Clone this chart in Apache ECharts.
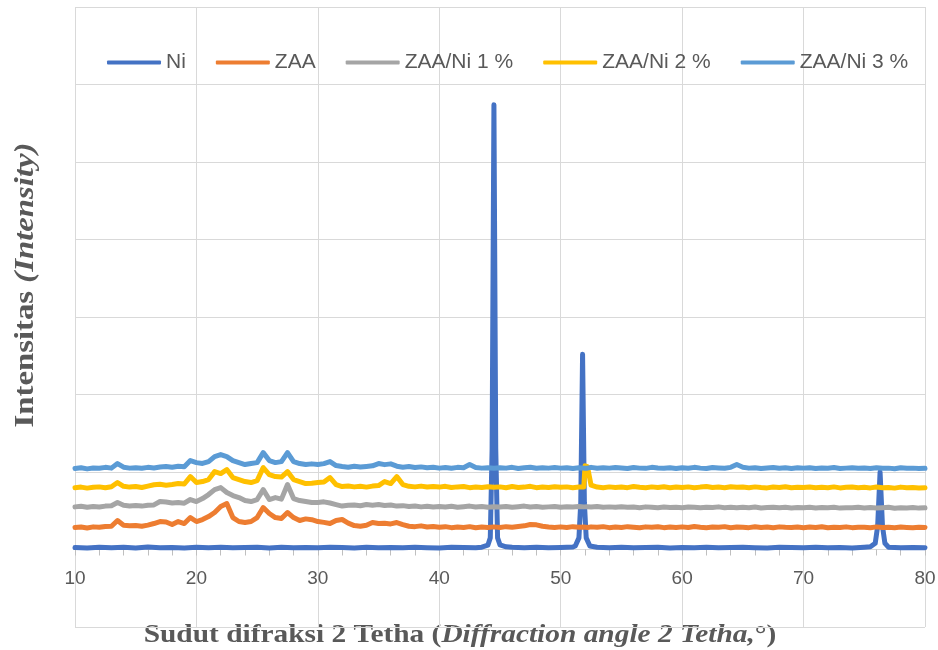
<!DOCTYPE html>
<html><head><meta charset="utf-8">
<script src="https://cdn.jsdelivr.net/npm/echarts@6/dist/echarts.min.js"></script>
<style>html,body{margin:0;padding:0;background:#fff}#c{width:938px;height:650px}</style>
</head><body><div id="c"></div>
<script>
// 2-theta sampling grid for the ZAA-based patterns (degrees)
const theta = [
  10,10.5,11,11.5,12,12.5,13,13.5,14,14.5,
  15,15.5,16,16.5,17,17.5,18,18.5,19,19.5,
  20,20.5,21,21.5,22,22.5,23,23.5,24,24.5,
  25,25.5,26,26.5,27,27.5,28,28.5,29,29.5,
  30,30.5,31,31.5,32,32.5,33,33.5,34,34.5,
  35,35.5,36,36.5,37,37.5,38,38.5,39,39.5,
  40,40.5,41,41.5,42,42.5,43,43.5,44,44.5,
  45,45.5,46,46.5,47,47.5,48,48.5,49,49.5,
  50,50.5,51,51.5,51.9,52,52.2,52.5,53,53.5,54,54.5,
  55,55.5,56,56.5,57,57.5,58,58.5,59,59.5,
  60,60.5,61,61.5,62,62.5,63,63.5,64,64.5,
  65,65.5,66,66.5,67,67.5,68,68.5,69,69.5,
  70,70.5,71,71.5,72,72.5,73,73.5,74,74.5,
  75,75.5,76,76.5,77,77.5,78,78.5,79,79.5,
  80
];
const zaaIntensity = [
  284,290,278,292,286,298,300,374,312,305,
  309,300,315,335,361,355,322,361,335,412,
  361,387,425,477,554,593,412,361,348,361,
  412,541,464,412,400,477,412,374,395,385,
  361,350,335,374,387,340,309,300,312,348,
  335,340,330,348,322,300,295,305,290,298,
  288,295,282,290,285,295,280,290,285,292,
  285,295,288,298,305,322,318,300,290,285,
  292,285,295,288,290,296,284,292,286,295,282,290,
  285,295,288,280,292,286,294,282,290,285,
  292,284,296,288,282,290,286,295,280,290,
  288,282,294,285,290,280,292,286,284,290,
  282,290,285,294,280,288,284,292,282,288,
  286,280,292,284,288,282,290,285,280,288,
  284
];
const zaaNi1Intensity = [
  550,558,545,555,548,560,565,606,570,562,
  568,560,572,575,619,612,600,606,598,645,
  619,657,709,773,799,735,696,670,632,619,
  645,773,645,670,650,838,657,632,619,606,
  606,615,600,580,560,570,575,565,580,572,
  580,568,575,560,566,555,562,550,558,548,
  555,548,558,545,552,560,548,556,545,552,
  548,556,545,552,560,548,554,545,550,556,
  545,552,548,555,550,546,552,548,556,545,550,544,
  552,545,548,540,550,544,538,548,542,546,
  540,548,544,538,546,542,550,540,545,538,
  545,540,548,536,542,546,538,544,535,542,
  538,545,535,542,540,546,534,540,538,544,
  536,542,535,540,545,532,540,536,542,534,
  538
];
const zaaNi2Intensity = [
  798,805,792,802,808,796,810,864,815,805,
  812,800,818,835,842,830,838,851,845,941,
  864,877,902,1005,980,1031,928,902,877,864,
  889,1057,967,941,935,1005,902,877,851,855,
  864,870,928,838,812,820,808,815,805,818,
  825,877,851,941,838,815,808,818,806,812,
  805,815,800,808,812,798,806,800,810,802,
  808,796,812,800,805,815,798,806,800,810,
  802,808,798,806,805,1080,1070,830,805,798,808,800,
  806,798,812,802,796,808,800,810,798,805,
  800,808,796,805,812,800,806,798,810,802,
  806,798,808,800,795,806,800,810,797,803,
  800,806,796,804,798,808,795,802,806,798,
  802,795,806,798,800,792,805,796,800,794,
  798
];
const zaaNi3Intensity = [
  1045,1055,1040,1052,1048,1060,1050,1109,1062,1050,
  1055,1048,1060,1052,1065,1070,1062,1075,1068,1147,
  1121,1110,1134,1199,1225,1199,1147,1121,1096,1110,
  1121,1250,1147,1121,1134,1250,1134,1109,1096,1105,
  1096,1108,1134,1083,1070,1062,1075,1065,1072,1080,
  1109,1095,1105,1075,1062,1070,1058,1066,1055,1062,
  1050,1058,1048,1060,1055,1096,1058,1050,1055,1048,
  1056,1050,1060,1045,1055,1062,1048,1055,1050,1058,
  1050,1056,1045,1055,1050,1058,1050,1060,1048,1055,1050,1058,
  1052,1045,1058,1050,1047,1060,1052,1048,1055,1046,
  1055,1048,1060,1050,1045,1057,1052,1048,1060,1096,
  1062,1050,1055,1045,1052,1058,1048,1054,1046,1055,
  1050,1056,1044,1052,1048,1058,1045,1050,1055,1047,
  1052,1045,1056,1048,1050,1042,1055,1047,1050,1044,
  1048
];
// Ni pattern (own grid, dense around the Ni reflections)
const niTheta = [
  10,11,12,13,14,15,16,17,18,19,20,21,22,23,24,25,26,27,28,29,30,31,32,33,34,35,36,37,38,39,40,41,42,43,
  43.5,44,44.2,44.35,44.5,44.65,44.8,45,45.5,
  46,47,48,49,50,51,
  51.2,51.5,51.65,51.8,51.95,52.1,52.4,
  53,54,55,56,57,58,59,60,61,62,63,64,65,66,67,68,69,70,71,72,73,74,75,
  75.5,75.9,76.1,76.3,76.5,76.7,
  77,78,79,80
];
const niIntensity = [
  26,20,30,22,28,18,32,24,26,20,30,24,28,22,26,30,20,28,24,26,22,30,25,20,28,24,26,22,30,24,20,28,26,22,
  30,55,150,1300,5740,1300,150,60,35,
  28,24,30,22,26,32,
  45,150,600,2520,600,150,45,
  30,24,28,22,26,30,20,26,24,28,22,26,30,24,20,28,26,22,28,24,26,20,30,
  35,80,300,1000,300,80,
  30,24,26,22
];
const seriesNames = ['Ni','ZAA','ZAA/Ni 1 %','ZAA/Ni 2 %','ZAA/Ni 3 %'];
const seriesColors = ['#4472C4','#ED7D31','#A5A5A5','#FFC000','#5B9BD5'];

const pair = (xs, ys) => xs.map((x, i) => [x, ys[i]]);
const seriesData = [
  pair(niTheta, niIntensity),
  pair(theta, zaaIntensity),
  pair(theta, zaaNi1Intensity),
  pair(theta, zaaNi2Intensity),
  pair(theta, zaaNi3Intensity)
];

const chart = echarts.init(document.getElementById('c'), null, {renderer: 'canvas'});
const grey = '#595959';
const gridCol = '#d9d9d9';
const serif = 'Liberation Serif, "DejaVu Serif", serif';
chart.setOption({
  animation: false,
  backgroundColor: '#fff',
  grid: {left: 75, right: 13, top: 7, bottom: 23, containLabel: false, outerBoundsMode: 'none'},
  legend: {
    left: 102, top: 47,
    itemWidth: 54, itemHeight: 4, itemGap: 30,
    icon: 'roundRect',
    textStyle: {color: grey, fontSize: 21, fontFamily: 'Liberation Sans, Arial, sans-serif'},
    data: seriesNames
  },
  xAxis: {
    type: 'value', min: 10, max: 80, interval: 10,
    offset: -77.5,
    axisLine: {show: true, onZero: false, lineStyle: {color: gridCol, width: 1}},
    axisTick: {show: true, length: 6, lineStyle: {color: '#bfbfbf'}},
    minorTick: {show: true, splitNumber: 5, length: 6, lineStyle: {color: '#bfbfbf'}},
    axisLabel: {color: grey, fontSize: 19, margin: 20, fontFamily: 'Liberation Sans, Arial, sans-serif'},
    splitLine: {show: true, lineStyle: {color: gridCol, width: 1}}
  },
  yAxis: {
    type: 'value', min: -1000, max: 7000, interval: 1000,
    axisLine: {show: false}, axisTick: {show: false}, axisLabel: {show: false},
    splitLine: {show: true, lineStyle: {color: gridCol, width: 1}}
  },
  graphic: [
    {
      type: 'text', x: 460, y: 635, scaleX: 1.13, scaleY: 1,
      style: {
        text: '{n|Sudut difraksi 2 Tetha (}{i|Diffraction angle 2 Tetha,}{n|°)}',
        align: 'center', verticalAlign: 'middle',
        rich: {
          n: {fontFamily: serif, fontWeight: 'bold', fontSize: 26, fill: grey},
          i: {fontFamily: serif, fontWeight: 'bold', fontStyle: 'italic', fontSize: 26, fill: grey}
        }
      }
    },
    {
      type: 'text', x: 26, y: 285, rotation: Math.PI / 2, scaleX: 1.17, scaleY: 1,
      style: {
        text: '{n|Intensitas }{i|(Intensity)}',
        align: 'center', verticalAlign: 'middle',
        rich: {
          n: {fontFamily: serif, fontWeight: 'bold', fontSize: 28, fill: grey},
          i: {fontFamily: serif, fontWeight: 'bold', fontStyle: 'italic', fontSize: 28, fill: grey}
        }
      }
    }
  ],
  series: seriesNames.map((name, k) => ({
    name: name,
    type: 'line',
    data: seriesData[k],
    showSymbol: false, symbol: 'none',
    color: seriesColors[k],
    lineStyle: {color: seriesColors[k], width: 5, join: 'round', cap: 'round'}
  }))
});
</script>
</body></html>
